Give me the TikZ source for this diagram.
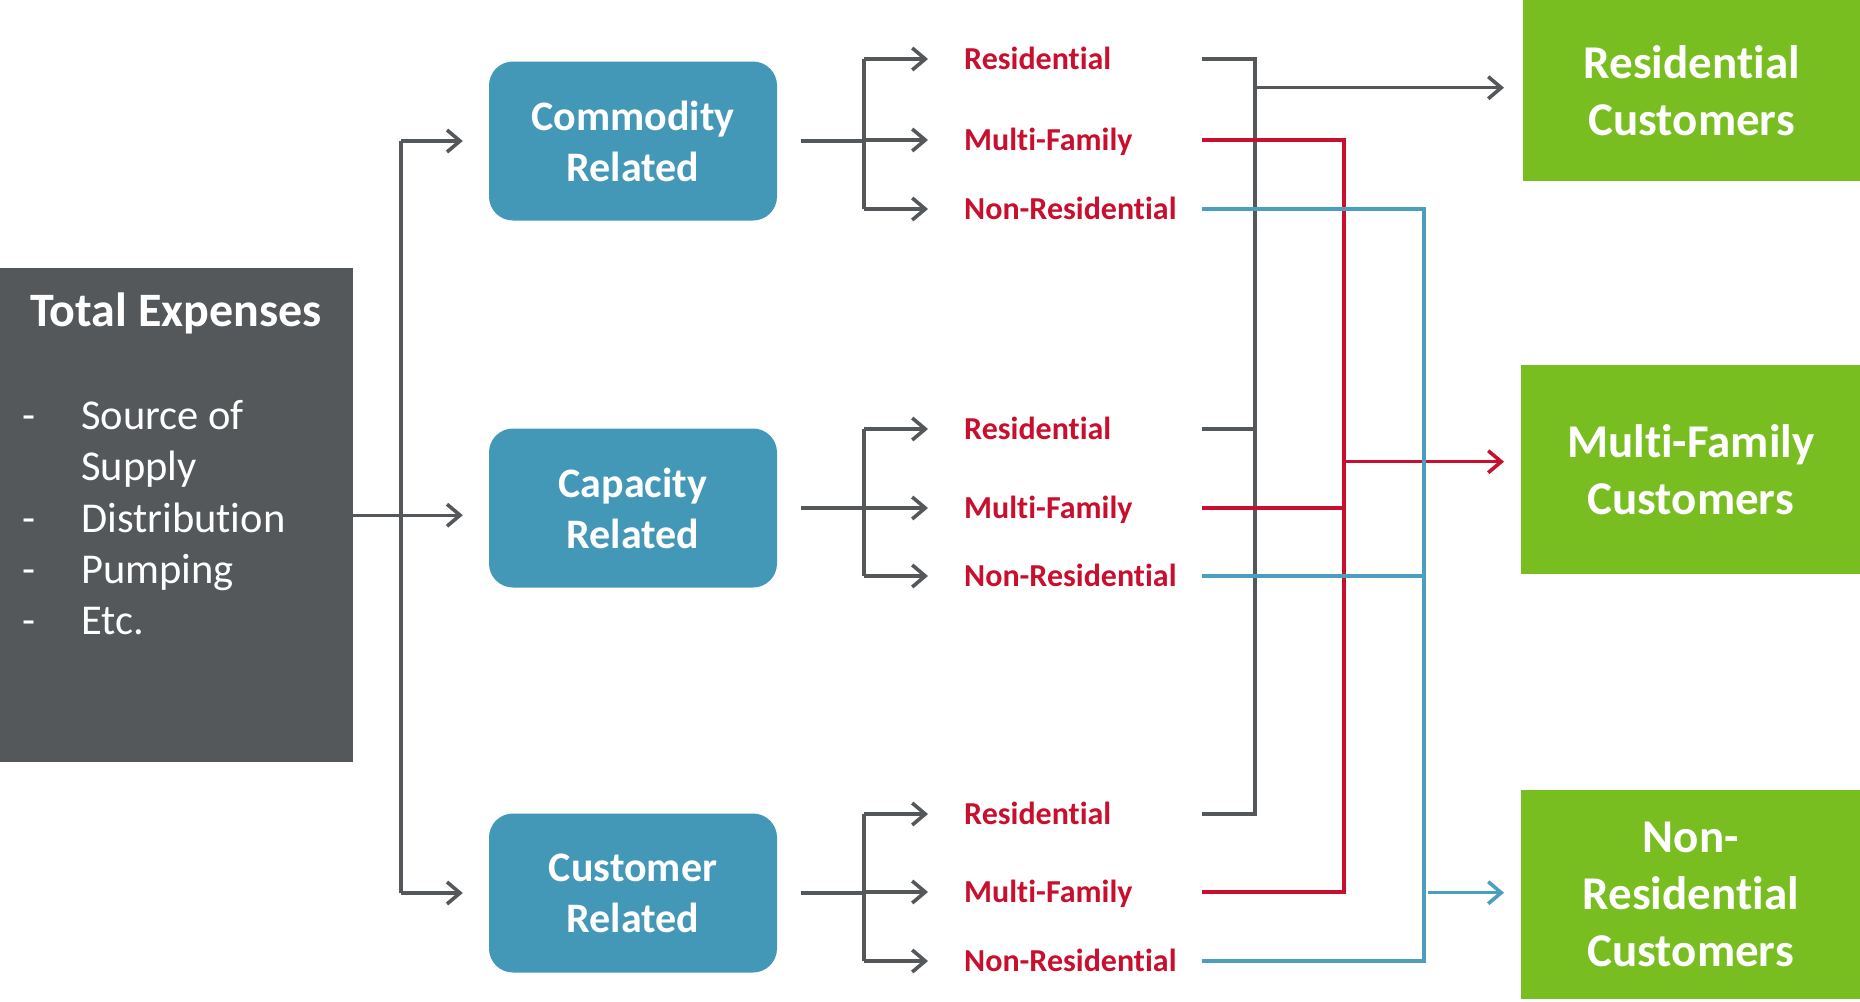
\documentclass[tikz,border=0pt]{standalone}
\usepackage{fontspec}
\setmainfont{Carlito}[Ligatures=NoCommon]
\usetikzlibrary{arrows.meta,calc}
\definecolor{dgray}{RGB}{84,88,91}
\definecolor{tblue}{RGB}{67,152,183}
\definecolor{lblue}{RGB}{74,158,190}
\definecolor{dred}{RGB}{200,16,46}
\definecolor{lgreen}{RGB}{120,190,32}
\tikzset{
  gline/.style={draw=dgray,line width=3.4pt},
  rline/.style={draw=dred,line width=3.4pt},
  bline/.style={draw=lblue,line width=3.4pt},
  tip/.style={-{Straight Barb[length=13pt,width=22pt,line width=3.6pt]}},
  catbox/.style={fill=tblue,rounded corners=24pt,minimum width=288pt,minimum height=159pt,
    inner sep=0pt,align=center,text=white,font=\fontsize{42}{51}\selectfont\bfseries},
  custbox/.style={fill=lgreen,minimum width=339pt,minimum height=209pt,anchor=north west,
    inner sep=0pt,align=center,text=white,font=\fontsize{47}{57}\selectfont\bfseries},
  lab/.style={anchor=west,inner sep=0pt,text height=20pt,text depth=0pt,text=dred,
    font=\fontsize{32}{38}\selectfont\bfseries},
  item/.style={anchor=base west,inner sep=0pt,text=white,font=\fontsize{42.5}{51}\selectfont},
}
\begin{document}
\begin{tikzpicture}[x=1pt,y=-1pt]
\useasboundingbox (0,0) rectangle (1860,1001);
% total expenses
\node[fill=dgray,minimum width=353pt,minimum height=494pt,anchor=north west,inner sep=0pt] (te) at (0,268) {};
\node[anchor=base,inner sep=0pt,text=white,font=\fontsize{48}{57}\selectfont\bfseries] (tet) at (176,326) {Total Expenses};
\node[item] (d1) at (22,429) {-};
\node[item] (i1) at (81,429) {Source of};
\node[item] (i1b) at (81,480) {Supply};
\node[item] (d2) at (22,532) {-};
\node[item] (i2) at (81,532) {Distribution};
\node[item] (d3) at (22,583) {-};
\node[item] (i3) at (81,583) {Pumping};
\node[item] (d4) at (22,634) {-};
\node[item] (i4) at (81,634) {Etc.};
% category boxes
\node[catbox] (com) at (633,141) {Commodity\\Related};
\node[catbox] (cap) at (633,508) {Capacity\\Related};
\node[catbox] (cus) at (633,893) {Customer\\Related};
% customer boxes
\node[custbox,minimum width=337pt,minimum height=181pt] (res) at (1523,0) {Residential\\Customers};
\node[custbox] (mf) at (1521,365) {Multi-Family\\Customers};
\node[custbox] (nr) at (1521,790) {Non-\\Residential\\Customers};
% labels
\node[lab] (a1) at (964,59) {Residential};
\node[lab] (a2) at (964,140) {Multi-Family};
\node[lab] (a3) at (964,209) {Non-Residential};
\node[lab] (b1) at (964,429) {Residential};
\node[lab] (b2) at (964,508) {Multi-Family};
\node[lab] (b3) at (964,576) {Non-Residential};
\node[lab] (c1) at (964,814) {Residential};
\node[lab] (c2) at (964,892) {Multi-Family};
\node[lab] (c3) at (964,961) {Non-Residential};
% helper coordinates
\coordinate (vx) at (401,0);
\coordinate (bx) at (864,0);
\coordinate (ox) at (1202,0);
\coordinate (gx) at (1255,0);
\coordinate (rx) at (1344,0);
\coordinate (lx) at (1424,0);
% left trunk
\draw[gline] (vx |- com.west) -- (vx |- cus.west);
\draw[gline,tip,shorten >=26pt] (te.east) -- (te.east -| cap.west);
\draw[gline,tip,shorten >=26pt] (vx |- com.west) -- (com.west);
\draw[gline,tip,shorten >=26pt] (vx |- cus.west) -- (cus.west);
% branches
\foreach \bb/\p/\q/\r in {com/a1/a2/a3,cap/b1/b2/b3,cus/c1/c2/c3}{
  \draw[gline,shorten <=24pt] (\bb.east) -- (bx |- \bb.east);
  \draw[gline] (bx |- \p.west) -- (bx |- \r.west);
  \draw[gline,tip,shorten >=36pt] (bx |- \p.west) -- (\p.west);
  \draw[gline,tip,shorten >=36pt] (bx |- \q.west) -- (\q.west);
  \draw[gline,tip,shorten >=36pt] (bx |- \r.west) -- (\r.west);
}
% gray collector
\draw[gline] (ox |- a1.west) -| (gx |- c1.west) -- (ox |- c1.west);
\draw[gline] (ox |- b1.west) -- (gx |- b1.west);
\draw[gline,tip,shorten >=19pt] ($(gx |- res.west)+(0,-3)$) -- ($(res.west)+(0,-3)$);
% red collector
\draw[rline] (ox |- a2.west) -| (rx |- c2.west) -- (ox |- c2.west);
\draw[rline] (ox |- b2.west) -- (rx |- b2.west);
\draw[rline,tip,shorten >=17pt] ($(rx |- mf.west)+(0,-8)$) -- ($(mf.west)+(0,-8)$);
% blue collector
\draw[bline] (ox |- a3.west) -| (lx |- c3.west) -- (ox |- c3.west);
\draw[bline] (ox |- b3.west) -- (lx |- b3.west);
\draw[bline,tip,shorten >=17pt] ($(lx |- nr.west)+(4,-2)$) -- ($(nr.west)+(0,-2)$);
\end{tikzpicture}
\end{document}
